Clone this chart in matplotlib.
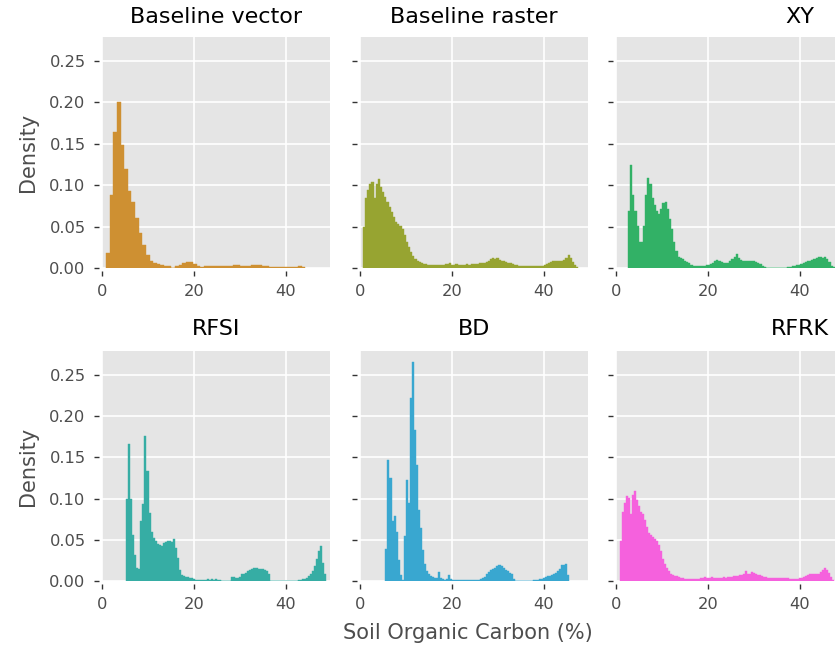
import numpy as np
import matplotlib
matplotlib.use("Agg")
import matplotlib.pyplot as plt

# Histogram densities per panel (one value per bin)
panels = ["Baseline vector", "Baseline raster", "XY", "RFSI", "BD", "RFRK"]
colors = ["#ce9032", "#97a431", "#32b166", "#36ada4", "#39a7d0", "#f561dd"]

# first bin edge and bin width of each panel (% SOC)
bin_start = [0.9, 0.6, 2.6, 5.3, 5.55, 0.8]
bin_width = [0.79, 0.47, 0.47, 0.44, 0.44, 0.44]

baseline_vector = [
    0.018, 0.088, 0.164, 0.201, 0.148, 0.120, 0.093, 0.080, 0.060, 0.042,
    0.028, 0.0155, 0.009, 0.0065, 0.005, 0.004, 0.003, 0.002, 0.0, 0.002,
    0.004, 0.006, 0.007, 0.007, 0.005, 0.003, 0.0015, 0.002, 0.0025, 0.003,
    0.003, 0.003, 0.003, 0.003, 0.003, 0.0035, 0.0035, 0.003, 0.003, 0.003,
    0.0035, 0.0035, 0.0035, 0.003, 0.002, 0.0015, 0.001, 0.001, 0.0008, 0.0008,
    0.0008, 0.001, 0.0015, 0.002, 0.0015]

baseline_raster = [
    0.049, 0.085, 0.094, 0.102, 0.104, 0.084, 0.102, 0.108, 0.098, 0.092,
    0.086, 0.080, 0.074, 0.068, 0.062, 0.056, 0.053, 0.051, 0.047, 0.040,
    0.032, 0.025, 0.019, 0.0145, 0.011, 0.0085, 0.007, 0.006, 0.0052, 0.0045,
    0.004, 0.0037, 0.0036, 0.0037, 0.0035, 0.0037, 0.0038, 0.004, 0.0045, 0.005,
    0.0055, 0.004, 0.0035, 0.0045, 0.0035, 0.0035, 0.004, 0.004, 0.0045, 0.004,
    0.0045, 0.005, 0.0045, 0.005, 0.0055, 0.006, 0.0065, 0.0075, 0.009, 0.011,
    0.0125, 0.0105, 0.0115, 0.0095, 0.0085, 0.008, 0.007, 0.006, 0.0055, 0.0045,
    0.004, 0.0035, 0.003, 0.003, 0.0028, 0.0028, 0.0025, 0.0025, 0.0025, 0.0025,
    0.0025, 0.0022, 0.0025, 0.003, 0.0035, 0.0045, 0.006, 0.0075, 0.0085, 0.009,
    0.009, 0.0085, 0.009, 0.0095, 0.012, 0.0155, 0.012, 0.0075, 0.004, 0.0015]

xy = [
    0.069, 0.125, 0.088, 0.069, 0.051, 0.032, 0.032, 0.051, 0.088, 0.109,
    0.101, 0.084, 0.076, 0.069, 0.065, 0.071, 0.078, 0.080, 0.071, 0.059,
    0.047, 0.032, 0.020, 0.0136, 0.0116, 0.0103, 0.009, 0.0078, 0.006, 0.004,
    0.003, 0.0025, 0.0025, 0.0025, 0.0025, 0.003, 0.0035, 0.004, 0.005, 0.0065,
    0.008, 0.0095, 0.009, 0.0075, 0.0065, 0.006, 0.0065, 0.0085, 0.011, 0.013,
    0.0165, 0.0125, 0.0095, 0.009, 0.0085, 0.008, 0.008, 0.0085, 0.0085, 0.0075,
    0.0065, 0.005, 0.003, 0.001, 0, 0, 0, 0, 0, 0,
    0, 0, 0, 0, 0.0008, 0.0012, 0.002, 0.0028, 0.0035, 0.004,
    0.005, 0.006, 0.007, 0.008, 0.009, 0.010, 0.011, 0.012, 0.0135, 0.013,
    0.012, 0.0135, 0.011, 0.007, 0.003, 0.0012]

rfsi = [
    0.100, 0.166, 0.099, 0.056, 0.032, 0.0155, 0.014, 0.073, 0.093, 0.176,
    0.134, 0.083, 0.060, 0.052, 0.048, 0.045, 0.044, 0.043, 0.046, 0.047,
    0.048, 0.048, 0.047, 0.051, 0.040, 0.028, 0.0135, 0.0073, 0.0065, 0.0053,
    0.0045, 0.004, 0.0033, 0.0025, 0.0012, 0.0012, 0.0008, 0.0008, 0.0012, 0.0015,
    0.002, 0.0015, 0.002, 0.0015, 0.002, 0.0015, 0.0015, 0.0005, 0, 0,
    0, 0, 0.005, 0.005, 0.004, 0.004, 0.0045, 0.008, 0.009, 0.010,
    0.012, 0.013, 0.0145, 0.0163, 0.016, 0.015, 0.015, 0.014, 0.0135, 0.0125,
    0.008, 0, 0, 0, 0, 0, 0, 0, 0, 0,
    0, 0, 0, 0, 0, 0.0008, 0.0012, 0.002, 0.003, 0.004,
    0.006, 0.008, 0.012, 0.018, 0.027, 0.036, 0.042, 0.022, 0.008]

bd = [
    0.039, 0.147, 0.125, 0.073, 0.079, 0.060, 0.025, 0.007, 0.001, 0.055,
    0.122, 0.095, 0.222, 0.266, 0.183, 0.141, 0.086, 0.064, 0.038, 0.021,
    0.0125, 0.0085, 0.006, 0.0045, 0.004, 0.0036, 0.011, 0.004, 0.002, 0.0016,
    0.002, 0.007, 0.003, 0.001, 0.0008, 0.0008, 0.0008, 0.0012, 0.0016, 0.0016,
    0.0012, 0.0016, 0.0008, 0.0008, 0.0008, 0.0008, 0.0016, 0.0024, 0.004, 0.005,
    0.008, 0.0105, 0.013, 0.014, 0.016, 0.018, 0.019, 0.018, 0.016, 0.0138,
    0.012, 0.010, 0.008, 0.002, 0, 0, 0, 0, 0, 0,
    0, 0, 0, 0.0008, 0.001, 0.0016, 0.002, 0.0028, 0.0036, 0.0045,
    0.0055, 0.006, 0.0075, 0.0085, 0.010, 0.012, 0.0145, 0.019, 0.020, 0.021,
    0.007]

rfrk = [
    0.048, 0.084, 0.095, 0.103, 0.101, 0.081, 0.104, 0.109, 0.098, 0.091,
    0.084, 0.081, 0.074, 0.066, 0.058, 0.056, 0.053, 0.051, 0.049, 0.044,
    0.036, 0.027, 0.021, 0.016, 0.012, 0.009, 0.007, 0.006, 0.0057, 0.005,
    0.004, 0.0033, 0.0029, 0.003, 0.0028, 0.003, 0.0029, 0.0028, 0.003, 0.0029,
    0.0033, 0.0036, 0.005, 0.004, 0.0036, 0.0045, 0.0036, 0.0033, 0.0038, 0.0036,
    0.004, 0.0045, 0.0042, 0.0048, 0.0045, 0.005, 0.0055, 0.0057, 0.006, 0.0068,
    0.0078, 0.0085, 0.012, 0.008, 0.009, 0.011, 0.010, 0.009, 0.0078, 0.007,
    0.006, 0.0052, 0.0045, 0.004, 0.0035, 0.0033, 0.0033, 0.0035, 0.0032, 0.0033,
    0.0034, 0.0033, 0.0032, 0.0033, 0.003, 0.0028, 0.0025, 0.0025, 0.0028, 0.0033,
    0.004, 0.005, 0.0062, 0.0072, 0.008, 0.0082, 0.008, 0.0085, 0.009, 0.0105,
    0.013, 0.0156, 0.013, 0.0095, 0.005, 0.0018]

densities = [baseline_vector, baseline_raster, xy, rfsi, bd, rfrk]

x_ticks = [0, 20, 40]
y_ticks = [0.0, 0.05, 0.10, 0.15, 0.20, 0.25]

# layout in pixels (image is 835 x 647, third column runs off the right edge)
W, H = 835, 647
col_left = [102, 360, 616]
row_top = [37, 351]
row_bottom = [268, 581]
panel_w = 228
title_x = [216, 474, 800]
title_y = [17, 329]

fig = plt.figure(figsize=(W / 100, H / 100), dpi=100)

for i, name in enumerate(panels):
    r, c = divmod(i, 3)
    ax = fig.add_axes([col_left[c] / W, 1 - row_bottom[r] / H,
                       panel_w / W, (row_bottom[r] - row_top[r]) / H])
    ax.set_facecolor("#e5e5e5")
    vals = np.array(densities[i])
    edges = bin_start[i] + bin_width[i] * np.arange(len(vals) + 1)
    centers = (edges[:-1] + edges[1:]) / 2
    # one filled step polygon per panel, so no seams between bins
    ax.hist(centers, bins=edges, weights=vals, histtype="stepfilled",
            color=colors[i], edgecolor=colors[i], linewidth=0.3)

    ax.set_xlim(0, 49.7)
    ax.set_ylim(0, 0.279)
    ax.set_xticks(x_ticks)
    ax.set_yticks(y_ticks)
    ax.set_yticklabels([f"{v:.2f}" for v in y_ticks])
    ax.grid(True, color="white", linewidth=1.2)
    ax.set_axisbelow(True)
    for side in ["top", "right", "left", "bottom"]:
        ax.spines[side].set_visible(False)
    ax.spines["left"].set_position(("outward", 2))
    ax.spines["bottom"].set_position(("outward", 2))
    ax.tick_params(length=3.8, width=1.0, color="#333333", labelcolor="#4d4d4d",
                   labelsize=11.7, pad=6)
    if c > 0:
        ax.tick_params(labelleft=False)

    fig.text(title_x[c] / W, 1 - title_y[r] / H, name, ha="center", va="center",
             fontsize=16, color="black")

for r in range(2):
    fig.text(28 / W, 1 - (row_top[r] + row_bottom[r]) / 2 / H, "Density",
             rotation=90, ha="center", va="center", fontsize=15, color="#4d4d4d")

fig.text(468 / W, 1 - 633 / H, "Soil Organic Carbon (%)", ha="center",
         va="center", fontsize=15, color="#4d4d4d")

fig.savefig("out.png", dpi=100)
